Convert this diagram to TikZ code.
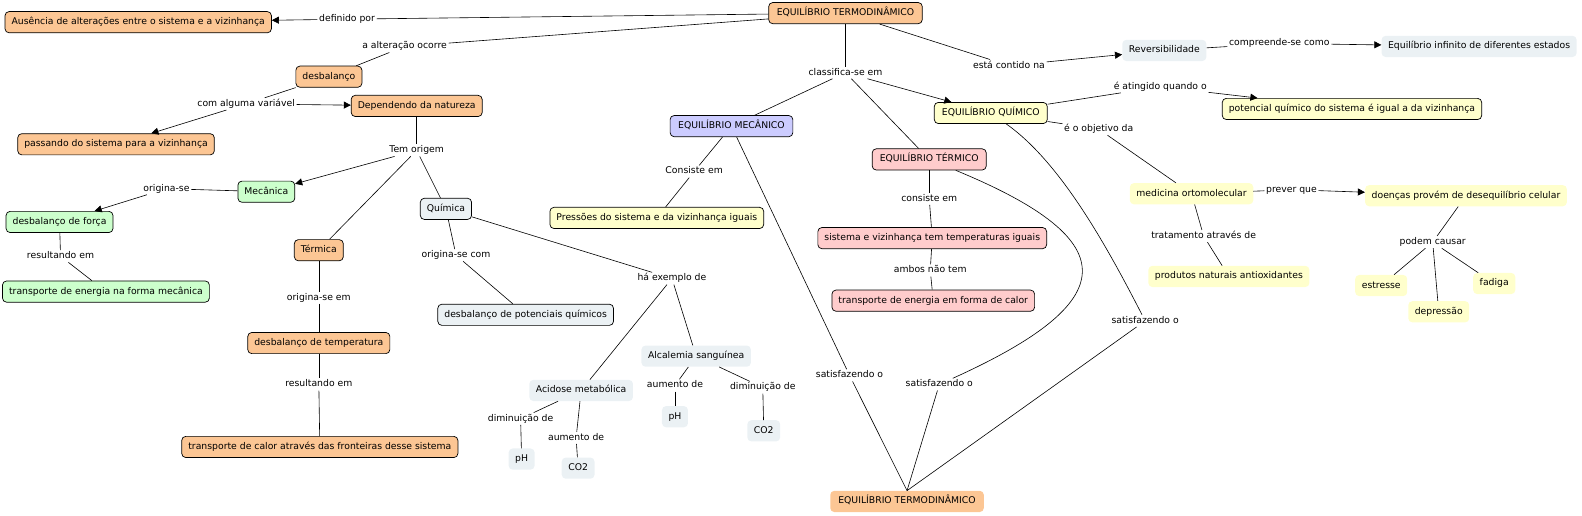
\documentclass[tikz,border=0pt]{standalone}
\usepackage{fontspec}
\setmainfont{DejaVu Sans}
\usetikzlibrary{arrows.meta}
\newcommand{\fs}{\fontsize{9.2}{10}\selectfont}
\definecolor{cOr}{RGB}{252,198,148}
\definecolor{cGr}{RGB}{204,255,204}
\definecolor{cGy}{RGB}{235,241,244}
\definecolor{cLv}{RGB}{204,204,255}
\definecolor{cYl}{RGB}{255,255,204}
\definecolor{cPk}{RGB}{255,204,204}
\tikzset{
 base/.style={font=\fs, inner xsep=6.5pt, inner ysep=0pt, minimum height=21pt, rounded corners=4pt, text height=6.8pt, text depth=1.9pt},
 box/.style={base, draw=black, line width=0.7pt},
 flat/.style={base},
 lab/.style={font=\fs, inner sep=1.5pt, text height=6.8pt, text depth=1.9pt},
 conn/.style={line width=0.6pt},
 arr/.style={conn, -{Triangle[length=7pt,width=7pt]}}
}
\begin{document}
\begin{tikzpicture}[x=1pt,y=-1pt]
\useasboundingbox (0,0) rectangle (1568,511);
% nodes
\node[box, fill=cOr, inner xsep=8pt] (et) at (838,13) {EQUILÍBRIO TERMODINÂMICO};
\node[box, fill=cOr] (aus) at (137,22) {Ausência de alterações entre o sistema e a vizinhança};
\node[lab] (l1) at (344,19) {definido por};
\node[lab] (l2) at (401,46) {a alteração ocorre};
\node[box, fill=cOr] (desb) at (326,76) {desbalanço};
\node[lab] (l3) at (244,103) {com alguma variável};
\node[box, fill=cOr] (dep) at (413,105) {Dependendo da natureza};
\node[box, fill=cOr] (pass) at (115,143) {passando do sistema para a vizinhança};
\node[lab] (l4) at (413,149) {Tem origem};
\node[box, fill=cGr] (mec) at (264,190) {Mecânica};
\node[lab] (l5) at (165,187) {origina-se};
\node[box, fill=cGr] (dforca) at (59,220) {desbalanço de força};
\node[lab] (l6) at (60,254) {resultando em};
\node[box, fill=cGr] (tmec) at (105,289) {transporte de energia na forma mecânica};
\node[box, fill=cGy] (qui) at (442,207) {Química};
\node[box, fill=cOr] (term) at (316,248) {Térmica};
\node[lab] (l7) at (316,295) {origina-se em};
\node[box, fill=cOr] (dtemp) at (316,340) {desbalanço de temperatura};
\node[lab] (l8) at (316,381) {resultando em};
\node[box, fill=cOr] (tcal) at (317,443) {transporte de calor através das fronteiras desse sistema};
\node[lab] (l9) at (452,253) {origina-se com};
\node[box, fill=cGy] (dpot) at (521,312) {desbalanço de potenciais químicos};
\node[lab] (l10) at (666,276) {há exemplo de};
\node[flat, fill=cGy] (acid) at (576,387) {Acidose metabólica};
\node[lab] (l11) at (516,415) {diminuição de};
\node[flat, fill=cGy] (ph1) at (517,455) {pH};
\node[lab] (l12) at (571,434) {aumento de};
\node[flat, fill=cGy] (co1) at (573,464) {CO2};
\node[flat, fill=cGy] (alc) at (690,353) {Alcalemia sanguínea};
\node[lab] (l13) at (669,382) {aumento de};
\node[flat, fill=cGy] (ph2) at (669,413) {pH};
\node[lab] (l14) at (756,384) {diminuição de};
\node[flat, fill=cGy] (co2) at (757,427) {CO2};
\node[box, fill=cLv, inner xsep=8pt] (emec) at (725,125) {EQUILÍBRIO MECÂNICO};
\node[lab] (l15) at (688,170) {Consiste em};
\node[box, fill=cYl] (pres) at (651,216) {Pressões do sistema e da vizinhança iguais};
\node[lab] (l16) at (838,72) {classifica-se em};
\node[box, fill=cYl, inner xsep=7.5pt] (equi) at (982,112) {EQUILÍBRIO QUÍMICO};
\node[lab] (l17) at (1000,65) {está contido na};
\node[flat, fill=cGy] (rev) at (1154,50) {Reversibilidade};
\node[lab] (l18) at (1268,43) {compreende-se como};
\node[flat, fill=cGy] (inf) at (1466,46) {Equilíbrio infinito de diferentes estados};
\node[lab] (l19) at (1150,86) {é atingido quando o};
\node[box, fill=cYl] (pot) at (1340,108) {potencial químico do sistema é igual a da vizinhança};
\node[lab] (l20) at (1089,128) {é o objetivo da};
\node[box, fill=cPk, inner xsep=7.5pt] (eter) at (921,158) {EQUILÍBRIO TÉRMICO};
\node[lab] (l21) at (921,197) {consiste em};
\node[box, fill=cPk] (stemp) at (924,236) {sistema e vizinhança tem temperaturas iguais};
\node[lab] (l22) at (922,268) {ambos não tem};
\node[box, fill=cPk] (tcal2) at (925,298) {transporte de energia em forma de calor};
\node[flat, fill=cOr, inner xsep=8pt] (et2) at (899,497) {EQUILÍBRIO TERMODINÂMICO};
\node[lab] (s1) at (842,372) {satisfazendo o};
\node[lab] (s2) at (931,381) {satisfazendo o};
\node[lab] (s3) at (1135,318) {satisfazendo o};
\node[flat, fill=cYl] (med) at (1181,192) {medicina ortomolecular};
\node[lab] (l23) at (1280,188) {prever que};
\node[flat, fill=cYl] (doen) at (1453,194) {doenças provém de desequilíbrio celular};
\node[lab] (l24) at (1193,234) {tratamento através de};
\node[flat, fill=cYl] (prod) at (1218,274) {produtos naturais antioxidantes};
\node[lab] (l25) at (1420,240) {podem causar};
\node[flat, fill=cYl] (stress) at (1369,283) {estresse};
\node[flat, fill=cYl] (depr) at (1426,309) {depressão};
\node[flat, fill=cYl] (fad) at (1481,281) {fadiga};
% connectors
\draw[conn] (et) -- (l1); \draw[arr] (l1) -- (aus);
\draw[conn] (et) -- (l2); \draw[conn] (l2) -- (desb);
\draw[conn] (desb) -- (l3); \draw[arr] (l3) -- (dep); \draw[arr] (l3) -- (pass);
\draw[conn] (dep) -- (l4); \draw[arr] (l4) -- (mec); \draw[conn] (l4) -- (term); \draw[conn] (l4) -- (qui);
\draw[conn] (mec) -- (l5); \draw[arr] (l5) -- (dforca);
\draw[conn] (dforca) -- (l6); \draw[conn] (l6) -- (tmec);
\draw[conn] (term) -- (l7); \draw[conn] (l7) -- (dtemp);
\draw[conn] (dtemp) -- (l8); \draw[conn] (l8) -- (tcal);
\draw[conn] (qui) -- (l9); \draw[conn] (l9) -- (dpot);
\draw[conn] (qui) -- (l10); \draw[conn] (l10) -- (acid); \draw[conn] (l10) -- (alc);
\draw[conn] (acid) -- (l11); \draw[conn] (l11) -- (ph1);
\draw[conn] (acid) -- (l12); \draw[conn] (l12) -- (co1);
\draw[conn] (alc) -- (l13); \draw[conn] (l13) -- (ph2);
\draw[conn] (alc) -- (l14); \draw[conn] (l14) -- (co2);
\draw[conn] (et) -- (l16); \draw[conn] (l16) -- (emec); \draw[conn] (l16) -- (eter); \draw[arr] (l16) -- (equi);
\draw[conn] (et) -- (l17); \draw[arr] (l17) -- (rev);
\draw[conn] (rev) -- (l18); \draw[arr] (l18) -- (inf);
\draw[conn] (emec) -- (l15); \draw[conn] (l15) -- (pres);
\draw[conn] (eter) -- (l21); \draw[conn] (l21) -- (stemp);
\draw[conn] (stemp) -- (l22); \draw[conn] (l22) -- (tcal2);
\draw[conn] (equi) -- (l19); \draw[arr] (l19) -- (pot);
\draw[conn] (equi) -- (l20); \draw[conn] (l20) -- (med);
\draw[conn] (med) -- (l23); \draw[arr] (l23) -- (doen);
\draw[conn] (med) -- (l24); \draw[conn] (l24) -- (prod);
\draw[conn] (doen) -- (l25); \draw[conn] (l25) -- (stress); \draw[conn] (l25) -- (depr); \draw[conn] (l25) -- (fad);
\draw[conn] (emec) -- (s1); \draw[conn] (s1) -- (et2.north);
\draw[conn] (eter) .. controls (1120,240) and (1110,300) .. (s2); \draw[conn] (s2) -- (et2.north);
\draw[conn] (equi) .. controls (1050,160) and (1095,240) .. (s3); \draw[conn] (s3) -- (et2.north);
\end{tikzpicture}
\end{document}
